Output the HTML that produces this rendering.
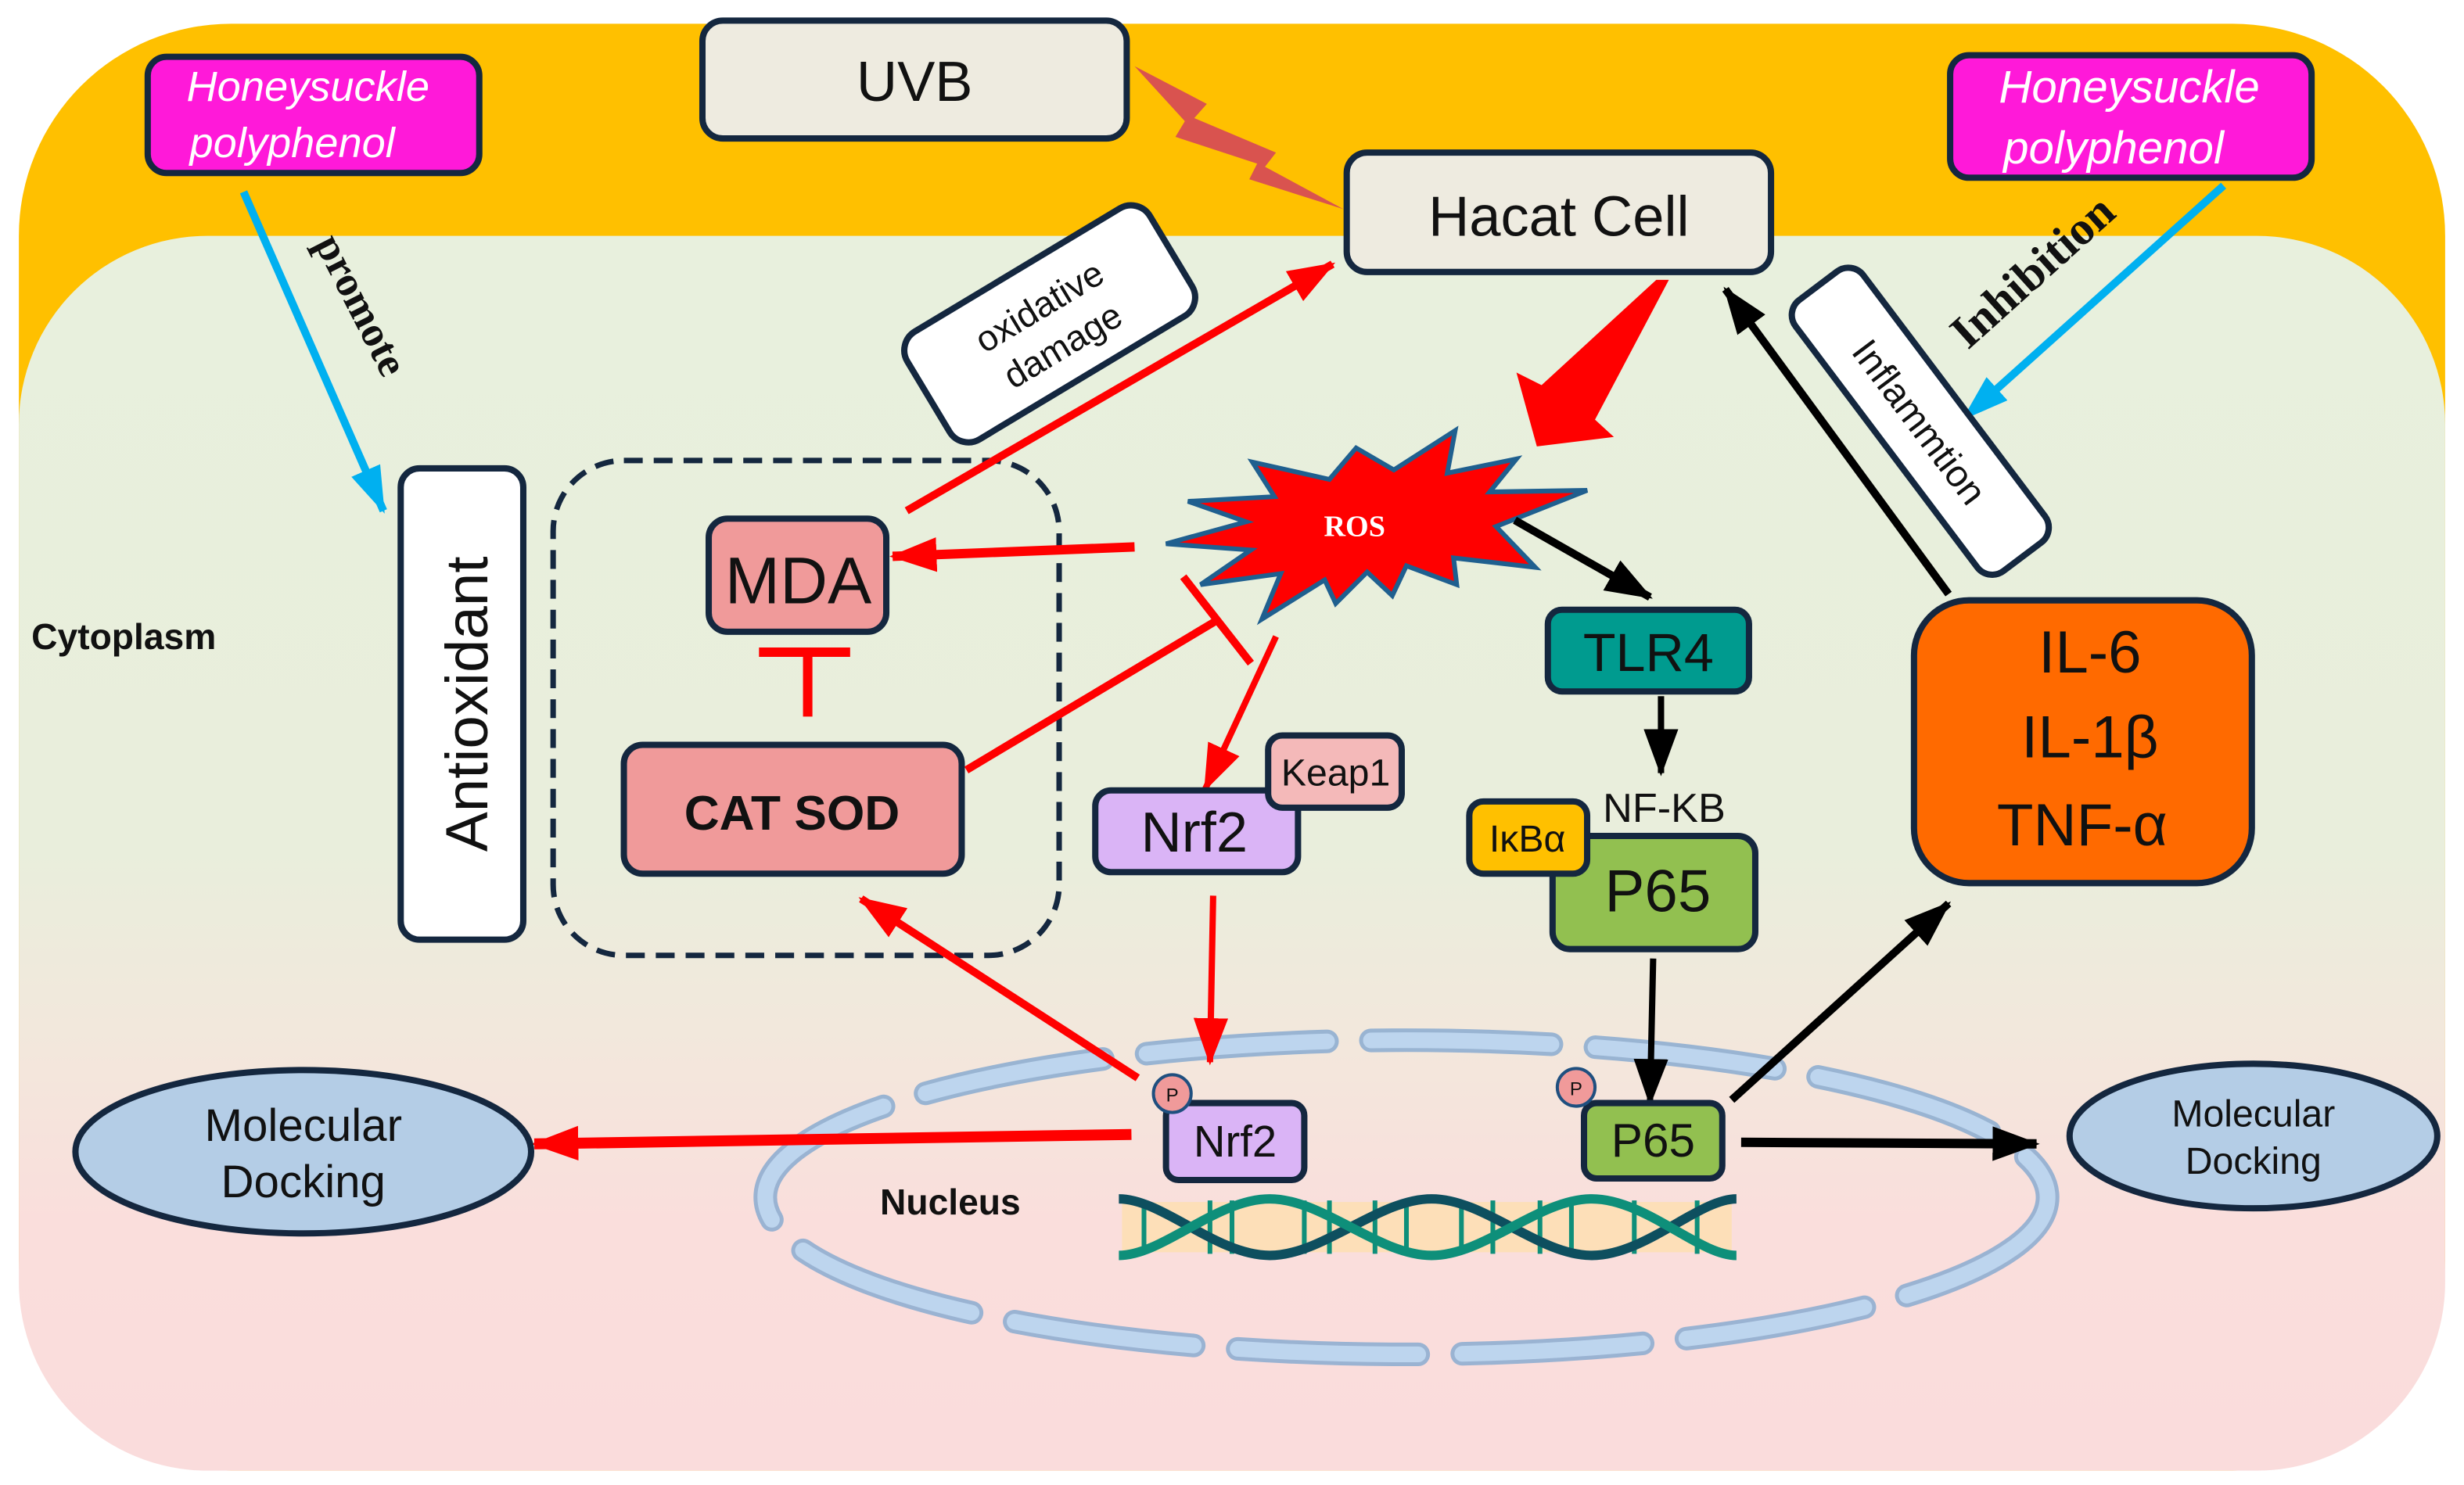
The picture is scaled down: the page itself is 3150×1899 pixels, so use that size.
<!DOCTYPE html>
<html><head><meta charset="utf-8"><style>
html,body{margin:0;padding:0;background:#fff;}
svg{display:block;}
</style></head><body>
<svg width="3150" height="1899" viewBox="0 0 1568 945" xmlns="http://www.w3.org/2000/svg" font-family="Liberation Sans, sans-serif">
<defs>
<linearGradient id="g" x1="0" y1="0" x2="0" y2="1">
<stop offset="0" stop-color="#E8F0DD"/>
<stop offset="0.5" stop-color="#E9EEDC"/>
<stop offset="0.66" stop-color="#F3E7DC"/>
<stop offset="0.8" stop-color="#FADEDC"/>
<stop offset="1" stop-color="#FADCDC"/>
</linearGradient>
<marker id="ar" markerUnits="userSpaceOnUse" markerWidth="30" markerHeight="30" viewBox="0 0 30 30" refX="28" refY="15" orient="auto"><path d="M0,4 L30,15 L0,26 Z" fill="#FF0000"/></marker>
<marker id="ak" markerUnits="userSpaceOnUse" markerWidth="30" markerHeight="30" viewBox="0 0 30 30" refX="28" refY="15" orient="auto"><path d="M0,4 L30,15 L0,26 Z" fill="#000"/></marker>
<marker id="ab" markerUnits="userSpaceOnUse" markerWidth="30" markerHeight="30" viewBox="0 0 30 30" refX="28" refY="15" orient="auto"><path d="M0,5 L30,15 L0,25 Z" fill="#00B0F0"/></marker>
</defs>
<rect x="12" y="15" width="1544" height="921" rx="135" fill="#FFC000"/>
<rect x="12" y="150" width="1544" height="786" rx="120" fill="url(#g)"/>

<ellipse cx="895" cy="762" rx="408" ry="100" fill="none" stroke="#8FAED0" stroke-width="15" stroke-dasharray="115 28" stroke-linecap="round" opacity="0.9"/>
<ellipse cx="895" cy="762" rx="408" ry="100" fill="none" stroke="#BDD5EE" stroke-width="10" stroke-dasharray="115 28" stroke-linecap="round"/>

<rect x="94" y="36" width="211" height="74" rx="12" fill="#FF19D9" stroke="#14273F" stroke-width="4"/>
<text x="196" y="64" font-size="27" font-style="italic" fill="#fff" text-anchor="middle">Honeysuckle</text>
<text x="186" y="100" font-size="27" font-style="italic" fill="#fff" text-anchor="middle">polyphenol</text>

<rect x="447" y="13" width="270" height="75" rx="13" fill="#EEEBE0" stroke="#14273F" stroke-width="4"/>
<text x="582" y="64" font-size="36" fill="#111" text-anchor="middle">UVB</text>

<polygon points="722,42 768,66 760,75 812,97 805,106 855,133 795,114 800,104 748,87 754,77" fill="#D9534F"/>

<rect x="857" y="97" width="270" height="76" rx="13" fill="#EEEBE0" stroke="#14273F" stroke-width="4"/>
<text x="992" y="150" font-size="36" fill="#111" text-anchor="middle">Hacat Cell</text>

<rect x="1241" y="35" width="230" height="78" rx="12" fill="#FF19D9" stroke="#14273F" stroke-width="4"/>
<text x="1355" y="65" font-size="29" font-style="italic" fill="#fff" text-anchor="middle">Honeysuckle</text>
<text x="1345" y="104" font-size="29" font-style="italic" fill="#fff" text-anchor="middle">polyphenol</text>

<line x1="155" y1="122" x2="244" y2="325" stroke="#00B0F0" stroke-width="5" marker-end="url(#ab)"/>
<text transform="translate(222,198) rotate(63)" style="font-family:'Liberation Serif',serif;font-weight:bold;font-size:27px" text-anchor="middle" fill="#111">promote</text>
<line x1="1415" y1="118" x2="1250" y2="266" stroke="#00B0F0" stroke-width="5" marker-end="url(#ab)"/>
<text transform="translate(1300,180) rotate(-42)" style="font-family:'Liberation Serif',serif;font-weight:bold;font-size:30px" text-anchor="middle" fill="#111">Inhibition</text>

<g transform="translate(1222,268) rotate(53)">
<rect x="-108" y="-27" width="216" height="54" rx="12" fill="#fff" stroke="#14273F" stroke-width="4"/>
<text x="0" y="9" font-size="24" text-anchor="middle" fill="#111">Inflammtion</text>
</g>
<g transform="translate(668,206) rotate(-31)">
<rect x="-90" y="-40" width="180" height="80" rx="14" fill="#fff" stroke="#14273F" stroke-width="4"/>
<text x="0" y="-5" font-size="23" text-anchor="middle" fill="#111">oxidative</text>
<text x="0" y="24" font-size="23" text-anchor="middle" fill="#111">damage</text>
</g>

<polygon points="1054,178 1062,178 1015,267 1027,278 978,284 965,237 981,245" fill="#FF0000"/>

<line x1="1240" y1="378" x2="1098" y2="184" stroke="#000" stroke-width="5" marker-end="url(#ak)"/>

<rect x="255" y="298" width="78" height="300" rx="12" fill="#fff" stroke="#14273F" stroke-width="4"/>
<text transform="translate(310,448) rotate(-90)" font-size="38" text-anchor="middle" fill="#111">Antioxidant</text>

<text x="20" y="413" font-size="23" font-weight="bold" fill="#111">Cytoplasm</text>
<text x="560" y="773" font-size="23" font-weight="bold" fill="#111">Nucleus</text>

<rect x="352" y="293" width="322" height="315" rx="45" fill="none" stroke="#14273F" stroke-width="3.5" stroke-dasharray="12 7"/>

<line x1="577" y1="325" x2="848" y2="168" stroke="#FF0000" stroke-width="5" marker-end="url(#ar)"/>

<rect x="451" y="330" width="113" height="72" rx="12" fill="#F09A9A" stroke="#14273F" stroke-width="4"/>
<text x="508" y="384" font-size="42" text-anchor="middle" fill="#111">MDA</text>
<line x1="483" y1="415" x2="541" y2="415" stroke="#FF0000" stroke-width="6"/>
<line x1="514" y1="415" x2="514" y2="456" stroke="#FF0000" stroke-width="6"/>

<rect x="397" y="474" width="215" height="82" rx="12" fill="#F09A9A" stroke="#14273F" stroke-width="4"/>
<text x="504" y="528" font-size="31" font-weight="bold" text-anchor="middle" fill="#111">CAT SOD</text>

<polygon points="756,319 811,316 797,294 846,305 863,285 887,299 926,274 921,301 965,292 948,313 1010,312 952,335 977,361 925,355 927,372 895,360 886,379 870,364 850,384 843,369 803,394 815,365 764,372 796,350 742,346 793,332" fill="#FF0000" stroke="#1F5F8F" stroke-width="3"/>
<text x="862" y="341" style="font-family:'Liberation Serif',serif;font-weight:bold;font-size:19px" fill="#fff" text-anchor="middle">ROS</text>

<line x1="722" y1="348" x2="568" y2="354" stroke="#FF0000" stroke-width="6" marker-end="url(#ar)"/>
<line x1="615" y1="490" x2="774" y2="395" stroke="#FF0000" stroke-width="5"/>
<line x1="753" y1="367" x2="796" y2="422" stroke="#FF0000" stroke-width="5"/>
<line x1="812" y1="405" x2="767" y2="502" stroke="#FF0000" stroke-width="4" marker-end="url(#ar)"/>

<rect x="697" y="503" width="129" height="52" rx="10" fill="#DAB4F6" stroke="#14273F" stroke-width="4"/>
<text x="760" y="542" font-size="36" text-anchor="middle" fill="#111">Nrf2</text>
<rect x="807" y="468" width="85" height="46" rx="9" fill="#F4B9B9" stroke="#14273F" stroke-width="4"/>
<text x="850" y="500" font-size="24" text-anchor="middle" fill="#111">Keap1</text>

<line x1="772" y1="570" x2="770" y2="676" stroke="#FF0000" stroke-width="4" marker-end="url(#ar)"/>

<line x1="964" y1="331" x2="1050" y2="380" stroke="#000" stroke-width="5" marker-end="url(#ak)"/>
<rect x="985" y="388" width="128" height="52" rx="9" fill="#009B8F" stroke="#14273F" stroke-width="4"/>
<text x="1049" y="427" font-size="34" text-anchor="middle" fill="#111">TLR4</text>
<line x1="1057" y1="443" x2="1057" y2="492" stroke="#000" stroke-width="4" marker-end="url(#ak)"/>
<text x="1059" y="523" font-size="26" text-anchor="middle" fill="#111">NF-KB</text>
<rect x="988" y="532" width="129" height="72" rx="11" fill="#92C050" stroke="#14273F" stroke-width="4"/>
<text x="1055" y="580" font-size="38" text-anchor="middle" fill="#111">P65</text>
<rect x="935" y="510" width="75" height="46" rx="9" fill="#FFC000" stroke="#14273F" stroke-width="4"/>
<text x="972" y="542" font-size="24" text-anchor="middle" fill="#111">IκBα</text>
<line x1="1052" y1="610" x2="1050" y2="702" stroke="#000" stroke-width="4" marker-end="url(#ak)"/>

<rect x="1218" y="382" width="215" height="180" rx="35" fill="#FF6A00" stroke="#14273F" stroke-width="4"/>
<text x="1330" y="428" font-size="38" text-anchor="middle" fill="#111">IL-6</text>
<text x="1330" y="482" font-size="38" text-anchor="middle" fill="#111">IL-1β</text>
<text x="1325" y="538" font-size="38" text-anchor="middle" fill="#111">TNF-α</text>

<line x1="1102" y1="700" x2="1240" y2="575" stroke="#000" stroke-width="5" marker-end="url(#ak)"/>
<line x1="1108" y1="727" x2="1296" y2="728" stroke="#000" stroke-width="6" marker-end="url(#ak)"/>
<line x1="724" y1="686" x2="548" y2="572" stroke="#FF0000" stroke-width="5" marker-end="url(#ar)"/>
<line x1="720" y1="722" x2="340" y2="728" stroke="#FF0000" stroke-width="7" marker-end="url(#ar)"/>

<rect x="742" y="702" width="88" height="49" rx="8" fill="#DAB4F6" stroke="#14273F" stroke-width="4"/>
<text x="786" y="736" font-size="28" text-anchor="middle" fill="#111">Nrf2</text>
<circle cx="746" cy="696" r="12" fill="#F09A9A" stroke="#1F4F7F" stroke-width="2"/>
<text x="746" y="701" font-size="12" text-anchor="middle" fill="#111">P</text>

<rect x="1008" y="702" width="88" height="48" rx="8" fill="#92C050" stroke="#14273F" stroke-width="4"/>
<text x="1052" y="736" font-size="30" text-anchor="middle" fill="#111">P65</text>
<circle cx="1003" cy="692" r="12" fill="#F09A9A" stroke="#1F4F7F" stroke-width="2"/>
<text x="1003" y="697" font-size="12" text-anchor="middle" fill="#111">P</text>

<ellipse cx="193" cy="733" rx="145" ry="52" fill="#B4CDE6" stroke="#14273F" stroke-width="4"/>
<text x="193" y="726" font-size="29" text-anchor="middle" fill="#111">Molecular</text>
<text x="193" y="762" font-size="29" text-anchor="middle" fill="#111">Docking</text>
<ellipse cx="1434" cy="723" rx="117" ry="46" fill="#B4CDE6" stroke="#14273F" stroke-width="4"/>
<text x="1434" y="717" font-size="24" text-anchor="middle" fill="#111">Molecular</text>
<text x="1434" y="747" font-size="24" text-anchor="middle" fill="#111">Docking</text>

<!-- DNA -->
<rect x="714" y="765" width="388" height="32" fill="#FDDFB8"/>
<g stroke="#0E8F7A" stroke-width="3">
<line x1="728" y1="764" x2="728" y2="798"/><line x1="770" y1="764" x2="770" y2="798"/><line x1="784" y1="764" x2="784" y2="798"/>
<line x1="830" y1="764" x2="830" y2="798"/><line x1="846" y1="764" x2="846" y2="798"/><line x1="875" y1="764" x2="875" y2="798"/>
<line x1="895" y1="764" x2="895" y2="798"/><line x1="930" y1="764" x2="930" y2="798"/><line x1="950" y1="764" x2="950" y2="798"/>
<line x1="980" y1="764" x2="980" y2="798"/><line x1="1000" y1="764" x2="1000" y2="798"/><line x1="1040" y1="764" x2="1040" y2="798"/>
<line x1="1080" y1="764" x2="1080" y2="798"/>
</g>
<path d="M712,763 C740,763 774,799 808,799 C842,799 877,763 911,763 C945,763 979,799 1013,799 C1047,799 1081,763 1105,763" fill="none" stroke="#0E4F5F" stroke-width="6"/>
<path d="M712,799 C740,799 774,763 808,763 C842,763 877,799 911,799 C945,799 979,763 1013,763 C1047,763 1081,799 1105,799" fill="none" stroke="#0E8F7A" stroke-width="6"/>
</svg>
</body></html>
